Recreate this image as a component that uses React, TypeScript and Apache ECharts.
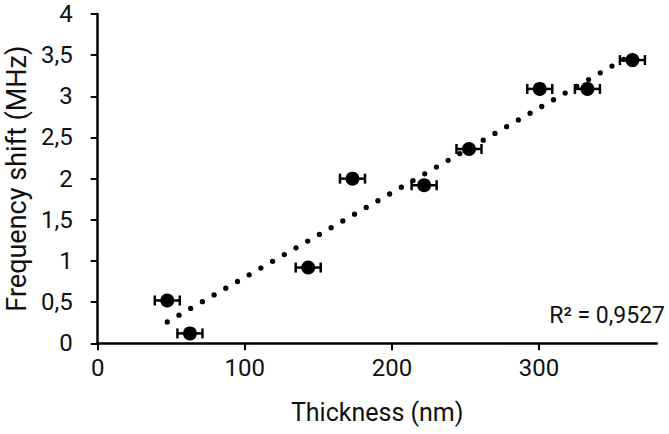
import React, { useEffect, useRef } from "react";
import * as echarts from "echarts";

const thickness = [47.3, 62.7, 143.1, 173.2, 221.9, 252.4, 300.5, 332.9, 363.5];
const freqShift = [0.52, 0.12, 0.92, 2.0, 1.92, 2.36, 3.09, 3.09, 3.44];
const thicknessErr = [8.5, 8.5, 8.5, 8.5, 8.5, 8.5, 8.5, 8.5, 8.5];
const trendX = [47.3, 363.5];
const trendY = [0.26, 3.51];
const xTicks = [0, 100, 200, 300];
const r2Label = "R² = 0,9527";
const xTitle = "Thickness (nm)";
const yTitle = "Frequency shift (MHz)";

const FONT = "Roboto";

export default function App() {
  const ref = useRef<HTMLDivElement>(null);
  useEffect(() => {
    if (!ref.current) return;
    const chart = echarts.init(ref.current, null, { renderer: "svg" });
    const points = thickness.map((x, i) => [x, freqShift[i], thicknessErr[i]]);
    const trend = trendX.map((x, i) => [x, trendY[i]]);
    chart.setOption({
      animation: false,
      backgroundColor: "#fff",
      grid: { left: 97.7, right: 12.3, top: 14, bottom: 90.7, containLabel: false, outerBoundsMode: "none" },
      xAxis: {
        type: "value",
        min: 0,
        max: 380,
        interval: 100,
        name: xTitle,
        nameLocation: "middle",
        nameGap: 57,
        nameTextStyle: { fontFamily: FONT, fontSize: 25, color: "#111" },
        axisLine: { show: true, onZero: false, lineStyle: { color: "#000", width: 2.5 } },
        axisTick: { show: true, length: 7, lineStyle: { color: "#000", width: 2 }, customValues: xTicks },
        axisLabel: { fontFamily: FONT, fontSize: 24, color: "#111", margin: 13, customValues: xTicks },
        splitLine: { show: false },
      },
      yAxis: {
        type: "value",
        min: 0,
        max: 4,
        interval: 0.5,
        name: yTitle,
        nameLocation: "middle",
        nameRotate: 90,
        nameGap: 65,
        nameTextStyle: { fontFamily: FONT, fontSize: 27, color: "#111" },
        axisLine: { show: true, lineStyle: { color: "#000", width: 2.5 } },
        axisTick: { show: true, length: 7, lineStyle: { color: "#000", width: 2 } },
        axisLabel: {
          fontFamily: FONT,
          fontSize: 24,
          color: "#111",
          margin: 25,
          formatter: (v: number) => String(v).replace(".", ","),
        },
        splitLine: { show: false },
      },
      graphic: [
        {
          type: "text",
          right: 4,
          top: 304,
          style: { text: r2Label, fontFamily: FONT, fontSize: 23, fill: "#111" },
        },
      ],
      series: [
        {
          type: "line",
          data: trend,
          showSymbol: false,
          symbol: "none",
          lineStyle: { color: "#000", width: 5.3, type: [0, 13.5], cap: "round" },
          z: 1,
        },
        {
          type: "custom",
          data: points,
          encode: { x: 0, y: 1 },
          z: 2,
          renderItem: (params: any, api: any) => {
            const x = api.value(0);
            const y = api.value(1);
            const e = api.value(2);
            const l = api.coord([x - e, y]);
            const r = api.coord([x + e, y]);
            const h = 5;
            const style = { stroke: "#000", lineWidth: 2.5, fill: "none" };
            return {
              type: "group",
              children: [
                { type: "line", shape: { x1: l[0], y1: l[1], x2: r[0], y2: r[1] }, style },
                { type: "line", shape: { x1: l[0], y1: l[1] - h, x2: l[0], y2: l[1] + h }, style },
                { type: "line", shape: { x1: r[0], y1: r[1] - h, x2: r[0], y2: r[1] + h }, style },
              ],
            };
          },
        },
        {
          type: "scatter",
          data: points.map((p) => [p[0], p[1]]),
          symbol: "circle",
          symbolSize: 14,
          itemStyle: { color: "#000", opacity: 1 },
          z: 3,
        },
      ],
    });
    return () => chart.dispose();
  }, []);
  return (
    <div
      ref={ref}
      style={{ position: "fixed", left: 0, top: 0, width: 669, height: 434, background: "#fff" }}
    />
  );
}
